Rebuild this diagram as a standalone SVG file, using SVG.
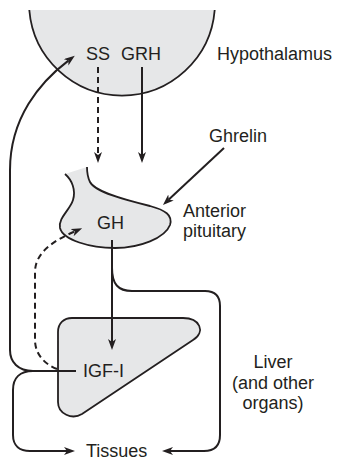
<svg xmlns="http://www.w3.org/2000/svg" width="339" height="460" viewBox="0 0 339 460">
<style>
.shape{fill:#e6e7e8;stroke:none}
.outline{fill:none;stroke:#231f20;stroke-width:1.8}
.ln{fill:none;stroke:#231f20;stroke-width:2}
.dash{stroke-dasharray:6 4}
.arr{marker-end:url(#ah)}
text{font-family:"Liberation Sans",Arial,sans-serif;font-size:18px;fill:#231f20}
</style>
<defs>
<marker id="ah" markerUnits="userSpaceOnUse" markerWidth="12" markerHeight="9" refX="3" refY="4" orient="auto">
<path d="M0,0 L11,4 L0,8 L3,4 Z" fill="#231f20"/>
</marker>
</defs>
<rect width="339" height="460" fill="#fff"/>
<g id="hypothalamus">
<path class="shape" d="M29.3,10 A93,93 0 0 0 214.7,10 Z"/>
<path class="outline" d="M29.3,10 A93,93 0 0 0 214.7,10"/>
<text x="86" y="60">SS</text>
<text x="121" y="60">GRH</text>
<text x="217" y="60">Hypothalamus</text>
</g>
<g id="ghrelin">
<text x="209" y="142">Ghrelin</text>
</g>
<g id="pituitary">
<path class="shape" d="M65,174 C72,180 76,190 73,200 C70,210 58,218 60,228 C63,240 90,248 115,248 C140,248 165,238 170,225 C173,215 165,210 150,206 C125,200 95,192 90,182 C87,176 87,170 87,167 Z"/>
<path class="outline" d="M65,174 C72,180 76,190 73,200 C70,210 58,218 60,228 C63,240 90,248 115,248 C140,248 165,238 170,225 C173,215 165,210 150,206 C125,200 95,192 90,182 C87,176 87,170 87,167"/>
<text x="97" y="229">GH</text>
<text x="183" y="217">Anterior</text>
<text x="183" y="237">pituitary</text>
</g>
<g id="liver">
<path class="shape" d="M72,318 H183 C200,318 206,332 193,340 L82,414 C72,420 58,414 58,402 V332 C58,323 64,318 72,318 Z"/>
<path class="outline" d="M72,318 H183 C200,318 206,332 193,340 L82,414 C72,420 58,414 58,402 V332 C58,323 64,318 72,318 Z"/>
<text x="83" y="377">IGF-I</text>
<text x="273" y="368" text-anchor="middle">Liver</text>
<text x="273" y="389" text-anchor="middle">(and other</text>
<text x="273" y="409" text-anchor="middle">organs)</text>
</g>
<g id="tissues">
<text x="86" y="457">Tissues</text>
</g>
<g id="connectors">
<path class="ln dash arr" d="M98,67 V155"/>
<path class="ln arr" d="M142,67 V155"/>
<path class="ln arr" d="M224,148 L168.8,199.5"/>
<path class="ln arr" d="M112,240 V342"/>
<path class="ln arr" d="M112,268 C112,284 118,291 132,291 H205 Q220,291 220,306 V435 Q220,451 204,451 H170"/>
<path class="ln" d="M33,371 H76"/>
<path class="ln arr" d="M33,371 C18,371 10,362 10,350 V170 C10,118 40,82 68.4,60.6"/>
<path class="ln arr" d="M33,371 C20,371 13,378 13,390 V435 C13,446 20,451 30,451 H67"/>
<path class="ln dash arr" d="M57,369 C42,363 35,352 35,340 V272 C35,252 55,240 74.8,231.4"/>
</g>
</svg>
